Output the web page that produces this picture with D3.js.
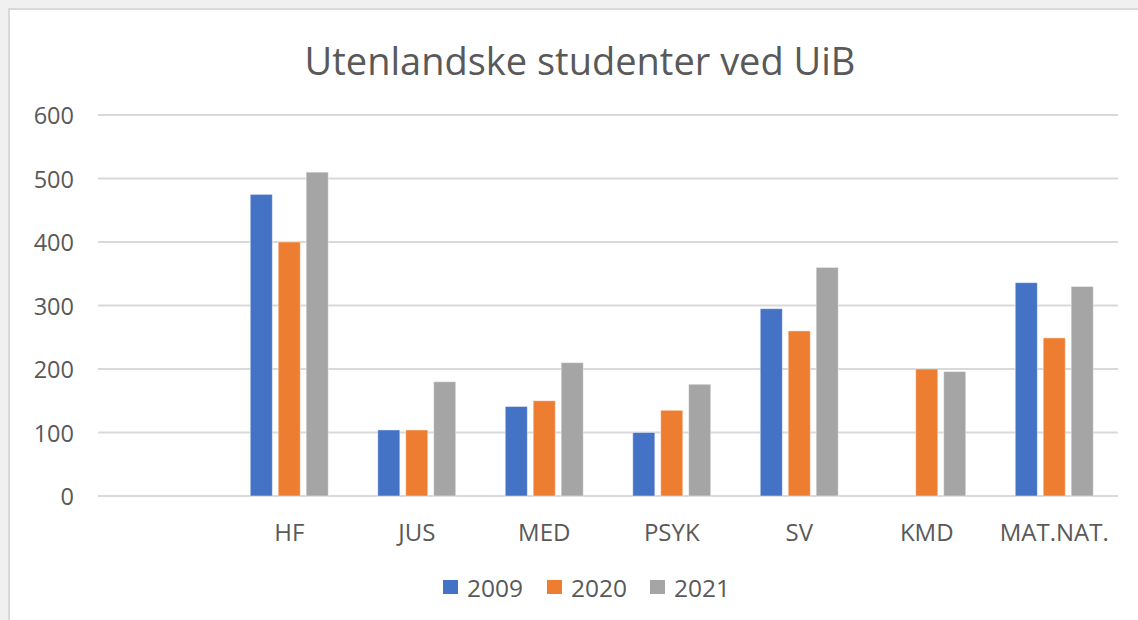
<!DOCTYPE html>
<html>
<head>
<meta charset="utf-8">
<script src="https://cdn.jsdelivr.net/npm/d3@7"></script>
<style>
  body { margin: 0; background: #f0f0f0; }
  text { font-family: "Open Sans", "Liberation Sans", sans-serif; fill: #595959; }
</style>
</head>
<body>
<div id="chart"></div>
<script>
const categories = ["", "HF", "JUS", "MED", "PSYK", "SV", "KMD", "MAT.NAT."];
const years = ["2009", "2020", "2021"];
const values2009 = [null, 475, 104, 141, 100, 295, null, 336];
const values2020 = [null, 400, 104, 150, 135, 260, 200, 249];
const values2021 = [null, 510, 180, 210, 176, 360, 196, 330];
const yTicks = [0, 100, 200, 300, 400, 500, 600];
const colors = ["#4472C4", "#ED7D31", "#A5A5A5"];

const series = [values2009, values2020, values2021];
const width = 1138, height = 620;
const plot = { left: 98, right: 1118, top: 115, bottom: 496 };

const svg = d3.select("#chart").append("svg")
  .attr("width", width).attr("height", height);

// page background + chart card
svg.append("rect").attr("width", width).attr("height", height).attr("fill", "#f0f0f0");
svg.append("rect")
  .attr("x", 9).attr("y", 9).attr("width", width).attr("height", height)
  .attr("fill", "#fff").attr("stroke", "#d9d9d9").attr("stroke-width", 2);

const x0 = d3.scaleBand().domain(categories).range([plot.left, plot.right]).padding(0);
const groupW = 78;
const x1 = d3.scaleBand().domain(years)
  .range([(x0.bandwidth() - groupW) / 2, (x0.bandwidth() + groupW) / 2])
  .paddingInner(0.21);
const y = d3.scaleLinear().domain([0, 600]).range([plot.bottom, plot.top]);

// gridlines
svg.append("g").selectAll("line").data(yTicks).join("line")
  .attr("x1", plot.left).attr("x2", plot.right)
  .attr("y1", d => y(d)).attr("y2", d => y(d))
  .attr("stroke", "#d9d9d9").attr("stroke-width", 2);

// y tick labels
svg.append("g").selectAll("text").data(yTicks).join("text")
  .attr("x", 74).attr("y", d => y(d))
  .attr("text-anchor", "end").attr("dominant-baseline", "central")
  .style("font-size", "23.5px")
  .text(d => d);

// bars
const bars = [];
categories.forEach((c, i) => {
  years.forEach((yr, s) => {
    const v = series[s][i];
    if (v != null) bars.push({ c, yr, s, v });
  });
});
svg.append("g").selectAll("rect").data(bars).join("rect")
  .attr("x", d => x0(d.c) + x1(d.yr))
  .attr("width", x1.bandwidth())
  .attr("y", d => y(d.v))
  .attr("height", d => y(0) - y(d.v))
  .attr("fill", d => colors[d.s])
  .attr("stroke", "rgba(255,255,255,0.45)").attr("stroke-width", 1);

// category labels
svg.append("g").selectAll("text").data(categories).join("text")
  .attr("x", d => x0(d) + x0.bandwidth() / 2)
  .attr("y", 531)
  .attr("text-anchor", "middle").attr("dominant-baseline", "central")
  .style("font-size", "24px")
  .text(d => d);

// title
svg.append("text")
  .attr("x", 580).attr("y", 60)
  .attr("text-anchor", "middle").attr("dominant-baseline", "central")
  .style("font-size", "38px")
  .text("Utenlandske studenter ved UiB");

// legend
const legendX = [443, 547, 650];
const legend = svg.append("g").selectAll("g").data(years).join("g")
  .attr("transform", (d, i) => `translate(${legendX[i]},587)`);
legend.append("rect")
  .attr("x", 0).attr("y", -7).attr("width", 15).attr("height", 14)
  .attr("fill", (d, i) => colors[i]);
legend.append("text")
  .attr("x", 24).attr("y", 0)
  .attr("dominant-baseline", "central")
  .style("font-size", "24.5px")
  .text(d => d);
</script>
</body>
</html>
